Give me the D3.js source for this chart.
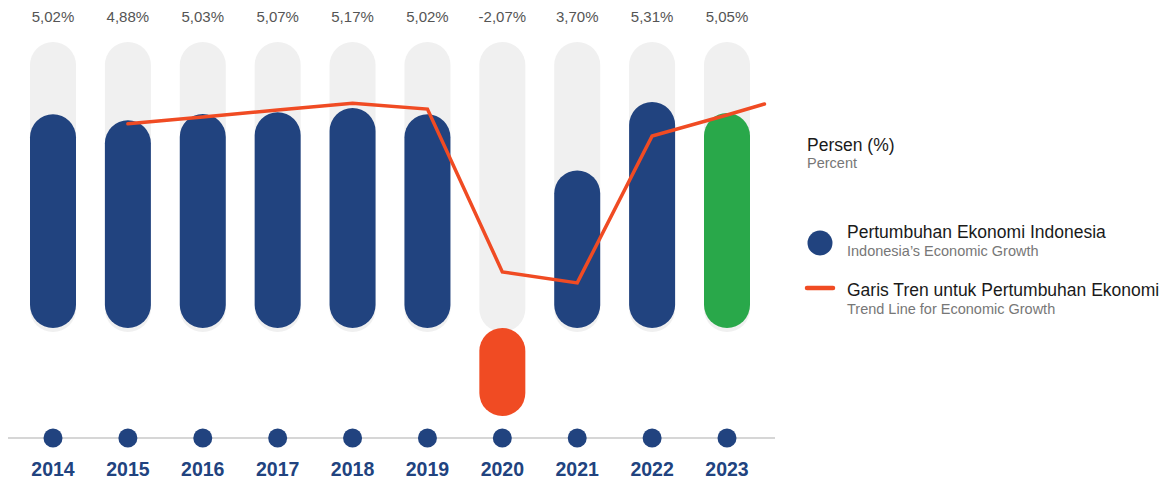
<!DOCTYPE html>
<html>
<head>
<meta charset="utf-8">
<script src="https://cdn.jsdelivr.net/npm/d3@7/dist/d3.min.js"></script>
<style>
  html, body { margin: 0; padding: 0; background: #fff; }
  svg { display: block; font-family: "Liberation Sans", Arial, Helvetica, sans-serif; }
</style>
</head>
<body>
<svg id="chart" width="1167" height="482"></svg>
<script>
// ---- data ----
const years = [2014, 2015, 2016, 2017, 2018, 2019, 2020, 2021, 2022, 2023];
const growth = [5.02, 4.88, 5.03, 5.07, 5.17, 5.02, -2.07, 3.70, 5.31, 5.05];
const valueLabels = ["5,02%", "4,88%", "5,03%", "5,07%", "5,17%", "5,02%", "-2,07%", "3,70%", "5,31%", "5,05%"];
const trendYears = [2015, 2016, 2017, 2018, 2019, 2020, 2021, 2022, 2023, 2023.5];
const trendValues = [4.84, 5.00, 5.17, 5.33, 5.19, 1.33, 1.07, 4.55, 5.05, 5.31];
const legendTitle = ["Persen (%)", "Percent"];
const legendItems = [
  ["Pertumbuhan Ekonomi Indonesia", "Indonesia\u2019s Economic Growth"],
  ["Garis Tren untuk Pertumbuhan Ekonomi", "Trend Line for Economic Growth"]
];

// ---- styles ----
const BLUE = "#21437f", GREEN = "#29a84a", ORANGE = "#f04b23", GRAY_BG = "#f0f0f0";
const barW = 46;

const svg = d3.select("#chart");
const x = d3.scaleLinear().domain([2014, 2023]).range([53, 727]);
const y = d3.scaleLinear().domain([0, 5.31]).range([328, 102]);
const yTrend = d3.scaleLinear().domain([0, 5.31]).range([328, 104]);
const bgTop = 42;

function pill(x0, y0, w, h) {
  const r = Math.min(w / 2, h / 2);
  return `M${x0},${y0 + r} A${r},${r} 0 0 1 ${x0 + w},${y0 + r} L${x0 + w},${y0 + h - r} A${r},${r} 0 0 1 ${x0},${y0 + h - r} Z`;
}

// background pills
svg.append("g").selectAll("path").data(years).join("path")
  .attr("d", d => pill(x(d) - barW / 2, bgTop, barW, y(0) - bgTop + 4))
  .attr("fill", GRAY_BG);

// value bars
svg.append("g").selectAll("path").data(years).join("path")
  .attr("d", (d, i) => {
    const v = growth[i];
    const top = Math.min(y(v), y(0));
    const bottom = Math.max(y(v), y(0));
    return pill(x(d) - barW / 2, top, barW, bottom - top);
  })
  .attr("fill", (d, i) => growth[i] < 0 ? ORANGE : (i === years.length - 1 ? GREEN : BLUE));

// value labels
svg.append("g").selectAll("text").data(years).join("text")
  .attr("x", d => x(d))
  .attr("y", 22)
  .attr("text-anchor", "middle")
  .attr("font-size", 15)
  .attr("fill", "#555")
  .text((d, i) => valueLabels[i]);

// trend line
const line = d3.line().x(d => x(d[0])).y(d => yTrend(d[1]));
svg.append("path")
  .datum(trendYears.map((t, i) => [t, trendValues[i]]))
  .attr("d", line)
  .attr("fill", "none")
  .attr("stroke", ORANGE)
  .attr("stroke-width", 3.5)
  .attr("stroke-linejoin", "miter")
  .attr("stroke-linecap", "round");

// bottom axis
const axisY = 438;
svg.append("line")
  .attr("x1", 8).attr("x2", 775)
  .attr("y1", axisY).attr("y2", axisY)
  .attr("stroke", "#c8c8c8").attr("stroke-width", 1.5);
svg.append("g").selectAll("circle").data(years).join("circle")
  .attr("cx", d => x(d)).attr("cy", axisY).attr("r", 9.5)
  .attr("fill", BLUE);
svg.append("g").selectAll("text").data(years).join("text")
  .attr("x", d => x(d))
  .attr("y", 476)
  .attr("text-anchor", "middle")
  .attr("font-size", 19.5)
  .attr("font-weight", "bold")
  .attr("fill", BLUE)
  .text(d => d);

// legend
const lg = svg.append("g");
lg.append("text").attr("x", 807).attr("y", 151).attr("font-size", 17.5).attr("fill", "#1a1a1a").text(legendTitle[0]);
lg.append("text").attr("x", 807).attr("y", 168).attr("font-size", 14.5).attr("fill", "#777").text(legendTitle[1]);

lg.append("circle").attr("cx", 820).attr("cy", 243).attr("r", 12.5).attr("fill", BLUE);
lg.append("line").attr("x1", 807).attr("x2", 833).attr("y1", 288).attr("y2", 288)
  .attr("stroke", ORANGE).attr("stroke-width", 4.5).attr("stroke-linecap", "round");

const itemY = [238, 296];
legendItems.forEach((it, i) => {
  lg.append("text").attr("x", 847).attr("y", itemY[i]).attr("font-size", 17.5).attr("fill", "#1a1a1a").text(it[0]);
  lg.append("text").attr("x", 847).attr("y", itemY[i] + 18).attr("font-size", 14.5).attr("fill", "#777").text(it[1]);
});
</script>
</body>
</html>
